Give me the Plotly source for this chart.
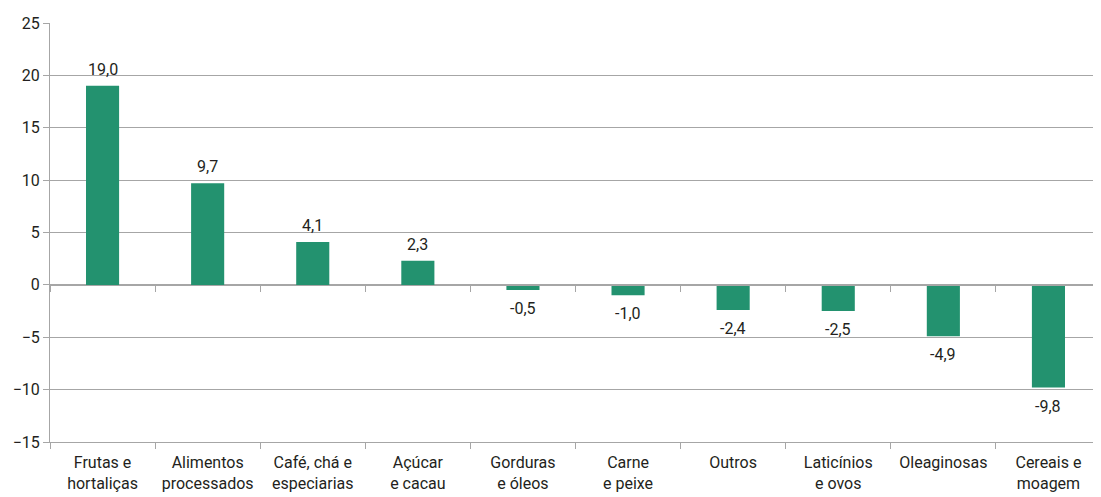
import plotly.graph_objects as go

categories = ["Frutas e<br>hortaliças", "Alimentos<br>processados", "Café, chá e<br>especiarias",
              "Açúcar<br>e cacau", "Gorduras<br>e óleos", "Carne<br>e peixe", "Outros",
              "Laticínios<br>e ovos", "Oleaginosas", "Cereais e<br>moagem"]
values = [19.0, 9.7, 4.1, 2.3, -0.5, -1.0, -2.4, -2.5, -4.9, -9.8]
y_ticks = [-15, -10, -5, 0, 5, 10, 15, 20, 25]

FONT = "Roboto, sans-serif"
GREEN = "#23926F"
GRID = "#a6a6a6"
TXT = "#231f20"
FS = 16

fig = go.Figure()
fig.add_trace(go.Bar(
    x=categories, y=values,
    marker=dict(color=GREEN, line=dict(width=0)),
    showlegend=False, hoverinfo="skip",
))
fig.add_trace(go.Scatter(
    x=categories, y=[0] * len(categories), xaxis="x2", yaxis="y",
    mode="markers", marker=dict(opacity=0), showlegend=False, hoverinfo="skip",
))

for c, v in zip(categories, values):
    fig.add_annotation(
        x=c, y=v, xref="x", yref="y",
        text=f"{v:.1f}".replace(".", ","), showarrow=False,
        yanchor="bottom" if v >= 0 else "top",
        yshift=5 if v >= 0 else -7,
        font=dict(family=FONT, size=FS, color=TXT),
    )

fig.update_layout(
    width=1093, height=489,
    margin=dict(l=42, r=0, t=15, b=55),
    paper_bgcolor="white", plot_bgcolor="white",
    bargap=0.685,
    font=dict(family=FONT, size=FS, color=TXT),
    xaxis=dict(
        type="category", categoryarray=categories, range=[-0.5, 9.5],
        showline=True, linecolor=GRID, linewidth=1,
        ticks="outside", tickson="boundaries", ticklen=6, tickcolor=GRID,
        showgrid=False, tickangle=0, automargin=False, ticklabelstandoff=6,
        tickfont=dict(family=FONT, size=FS, color=TXT),
    ),
    xaxis2=dict(
        type="category", categoryarray=categories, range=[-0.5, 9.5],
        overlaying="x", anchor="free", position=0.375,
        showline=True, linecolor=GRID, linewidth=1,
        ticks="outside", tickson="boundaries", ticklen=6, tickcolor=GRID,
        showticklabels=False, showgrid=False, automargin=False,
    ),
    yaxis=dict(
        range=[-15, 25], tickvals=y_ticks,
        showgrid=True, gridcolor=GRID, gridwidth=1,
        zeroline=False, automargin=False,
        showline=True, linecolor=GRID, linewidth=1,
        ticks="outside", ticklen=6, tickcolor=GRID,
        tickfont=dict(family=FONT, size=FS, color=TXT),
    ),
)

fig.write_html("out.html")
